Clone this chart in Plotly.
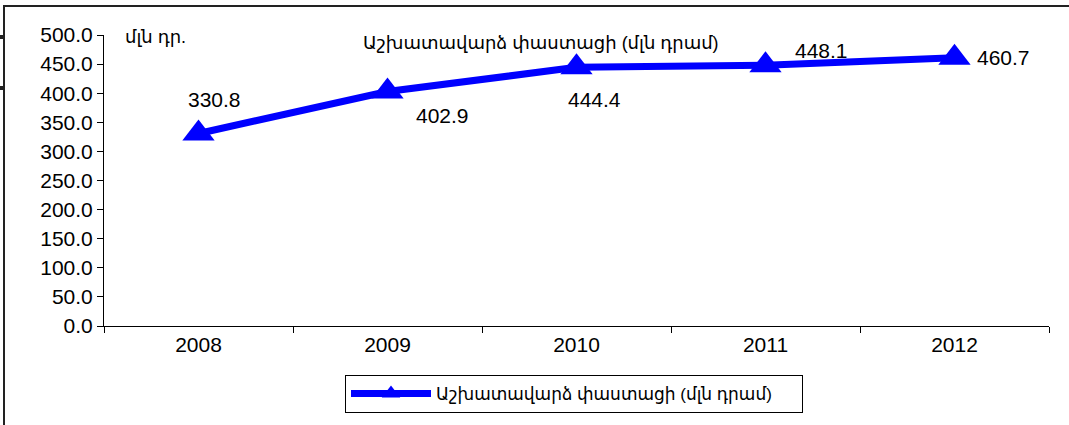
import plotly.graph_objects as go

years = ["2008", "2009", "2010", "2011", "2012"]
wages = [330.8, 402.9, 444.4, 448.1, 460.7]
series_name = "Աշխատավարձ փաստացի (մլն դրամ)"
unit_label = "մլն դր."

# label offsets (px) per point, as in the source chart
label_shift = [(16, 34), (55, -24), (18, -32), (56, 15), (49, 0)]

FONT = "Liberation Sans, DejaVu Sans, Arial"
L, R, T, B = 104, 20, 35, 99
W, H = 1069, 425
pw, ph = W - L - R, H - T - B


def px_x(x):
    return (x - L) / pw


def px_y(y):
    return (H - B - y) / ph


fig = go.Figure()
fig.add_trace(
    go.Scatter(
        x=years,
        y=wages,
        mode="lines+markers",
        name=series_name,
        line={"color": "#0000FF", "width": 7},
        marker={"symbol": "triangle-up", "size": 28, "color": "#0000FF"},
    )
)

# category axes take the index for annotations
for i, (value, (dx, dy)) in enumerate(zip(wages, label_shift)):
    fig.add_annotation(
        x=i, y=value, text=f"{value:.1f}", showarrow=False,
        xshift=dx, yshift=dy, font={"size": 21, "color": "black", "family": FONT},
    )

fig.add_annotation(
    xref="paper", yref="paper", x=px_x(541), y=px_y(43), text=series_name,
    xanchor="center", yanchor="middle",
    showarrow=False, font={"size": 18, "color": "black", "family": FONT},
)
fig.add_annotation(
    xref="paper", yref="paper", x=px_x(123), y=px_y(37), text=unit_label,
    xanchor="left", yanchor="middle",
    showarrow=False, font={"size": 18, "color": "black", "family": FONT},
)

# outer frame pieces
frame = [
    (px_x(3), px_y(6), 1.05, px_y(6), 2),
    (px_x(4), px_y(6), px_x(4), px_y(425), 2),
    (px_x(0), px_y(37), px_x(4), px_y(37), 4),
    (px_x(0), px_y(88), px_x(4), px_y(88), 4),
]
for x0, y0, x1, y1, w in frame:
    fig.add_shape(type="line", xref="paper", yref="paper", x0=x0, y0=y0, x1=x1, y1=y1,
                  line={"color": "#222222", "width": w})

fig.update_xaxes(
    type="category", range=[-0.5, len(years) - 0.5], showline=True,
    linecolor="black", linewidth=1,
    ticks="outside", tickson="boundaries", ticklen=6, tickcolor="black",
    showgrid=False, tickangle=0,
    tickfont={"size": 21, "family": FONT, "color": "black"},
)
fig.update_yaxes(
    range=[0, 500], dtick=50, tickformat=".1f", showline=True, linecolor="black",
    ticks="outside", ticklen=6, tickcolor="black", showgrid=False, zeroline=False,
    tickfont={"size": 21, "family": FONT, "color": "black"},
)
fig.update_layout(
    width=W, height=H,
    margin={"l": L, "r": R, "t": T, "b": B},
    plot_bgcolor="white", paper_bgcolor="white",
    showlegend=True,
    legend={
        "x": px_x(345), "y": px_y(375), "xanchor": "left", "yanchor": "top",
        "orientation": "h", "itemwidth": 80, "entrywidth": 361,
        "bordercolor": "black", "borderwidth": 1, "bgcolor": "white",
        "font": {"size": 17, "family": FONT, "color": "black"},
    },
)

# drop the page's default body margin so the chart sits at the window corner
fig.write_html(
    "out.html",
    config={"displayModeBar": False},
    post_script="document.body.style.margin = '0';",
)
